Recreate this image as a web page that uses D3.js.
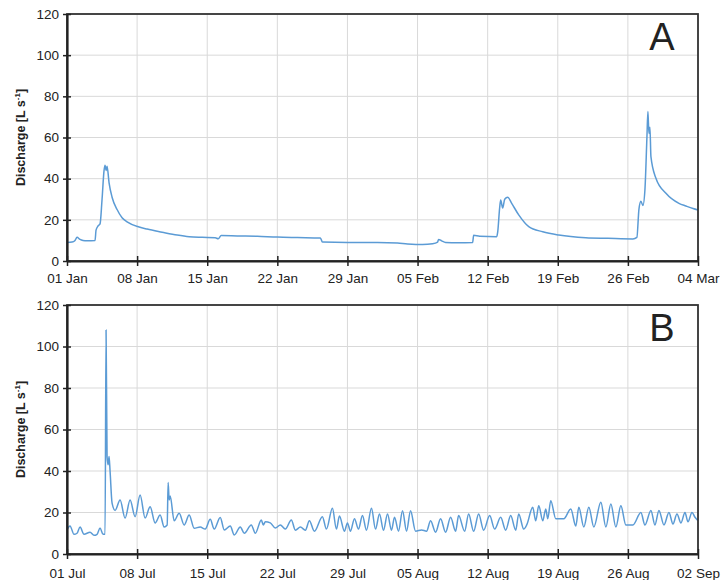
<!DOCTYPE html>
<html>
<head>
<meta charset="utf-8">
<script src="https://cdn.jsdelivr.net/npm/d3@7"></script>
<style>
  body { margin: 0; background: #fff; }
  text { font-family: Arial, "Liberation Sans", sans-serif; fill: #222; }
</style>
</head>
<body>
<div id="chart"></div>
<script>
var width = 728;
var height = 580;

// panel A: 01 Jan - 04 Mar (day offsets from start, discharge L/s)
var startA = new Date(2016, 0, 1);
var daysA = [0, 0.5, 0.8, 1.0, 1.3, 1.6, 2.0, 2.8, 2.9, 3.1, 3.3, 3.5, 3.7, 3.8, 3.9, 4.0, 4.2, 4.5, 5.0, 5.5,
  6.0, 7.2, 8.0, 9.5, 11, 12.2, 13.5, 14.8, 15.1, 15.4, 17, 19, 21, 23, 25.3, 25.5, 28, 31, 33, 34,
  35.5, 36.5, 37.0, 37.1, 37.4, 37.8, 39, 40.5, 40.6, 41.2, 42.9, 43.0, 43.2, 43.3, 43.5, 43.7, 44.0, 44.4, 45.1, 46.1,
  47.5, 49.1, 51.8, 54, 56.5, 56.9, 57.1, 57.3, 57.5, 57.7, 57.9, 58.0, 58.1, 58.2, 58.3, 58.8, 59.8, 61.1, 61.8, 62.5, 63];
var flowA = [9, 9.2, 10, 11.5, 10.5, 10, 9.8, 10, 15, 17, 18, 30, 44, 46.5, 44, 46, 38, 31, 25, 21,
  19, 16.5, 15.5, 14, 12.6, 11.8, 11.5, 11.3, 10.8, 12.4, 12.2, 12, 11.6, 11.4, 11.2, 9.2, 9.0, 9.0, 8.7, 8.3,
  8.0, 8.4, 9.2, 10.5, 9.8, 9.0, 8.9, 9, 12.5, 12, 11.8, 14, 26, 29.6, 25.7, 30, 31, 28, 22.4, 16.7,
  14.2, 12.6, 11.3, 11, 10.7, 11.5, 25, 29, 27, 34.5, 60, 72.6, 62, 65, 50.7, 40.2, 32.9, 28, 26.7, 25.5, 24.8];
var tickLabelsA = ["01 Jan", "08 Jan", "15 Jan", "22 Jan", "29 Jan", "05 Feb", "12 Feb", "19 Feb", "26 Feb", "04 Mar"];

// panel B: 01 Jul - 02 Sep
var startB = new Date(2016, 6, 1);
var daysB = [0, 0.3, 0.7, 1.0, 1.3, 1.7, 2.3, 2.7, 3.0, 3.3, 3.6, 3.8, 3.9, 4.0, 4.1, 4.2, 4.3, 4.5, 4.8, 5.3,
  5.8, 6.3, 6.8, 7.3, 7.8, 8.3, 8.8, 9.3, 9.7, 10.0, 10.1, 10.2, 10.3, 10.7, 11.2, 11.7, 12.2, 12.7, 13.3, 13.8,
  14.3, 14.7, 15.3, 15.7, 16.3, 16.7, 17.3, 17.7, 18.4, 18.8, 19.4, 19.6, 19.8, 20.3, 20.8, 21.3, 21.8, 22.4, 22.8, 23.3,
  23.8, 24.2, 24.7, 25.5, 25.9, 26.5, 26.9, 27.2, 27.7, 28.0, 28.3, 28.7, 29.1, 29.5, 29.9, 30.4, 30.8, 31.2, 31.6, 32.0,
  32.4, 32.7, 33.1, 33.5, 33.9, 34.3, 34.8, 35.4, 35.9, 36.3, 36.8, 37.3, 37.8, 38.3, 38.8, 39.1, 39.7, 40.1, 40.6, 41.1,
  41.6, 42.2, 42.7, 43.3, 43.8, 44.3, 44.8, 45.1, 45.6, 45.9, 46.5, 46.8, 47.1, 47.5, 47.8, 48.0, 48.3, 48.8, 49.6, 50.3,
  50.8, 51.1, 51.6, 52.1, 52.6, 53.3, 53.8, 54.3, 54.8, 55.3, 55.8, 56.5, 57.3, 57.7, 58.3, 58.7, 59.1, 59.6, 60.1, 60.5,
  60.9, 61.3, 61.7, 62.0, 62.4, 62.7, 63];
var flowB = [11.6, 13.5, 9.5, 10, 13, 9.5, 10.5, 9, 9.5, 12.5, 9.5, 9.5, 108, 47, 43, 47, 40, 24.5, 21, 26,
  17.3, 26, 18, 28.4, 17.3, 22.8, 15, 18.8, 13, 14, 34.5, 26, 28, 16, 19.6, 14, 18.8, 12.4, 13, 12,
  16.7, 12, 17.6, 11.6, 13.5, 9.2, 13, 10, 14, 10, 16.4, 14, 15.5, 15, 12.5, 14, 12, 16.4, 11.5, 13,
  11.5, 16, 11, 18, 12, 22, 12, 18.3, 11, 15, 11, 17, 12, 18.6, 11.5, 22, 12, 19.3, 11.5, 19.3,
  11.5, 17.7, 11, 20.9, 11, 20.9, 11, 11.6, 11, 16, 10.5, 17, 10.5, 17.7, 11, 18.5, 11, 19.3, 11, 19.3,
  11.5, 18.5, 12, 17.7, 11.5, 18.5, 11.5, 19.3, 12, 14, 22.5, 16, 23.3, 16, 21.7, 17, 25.7, 17, 17, 21.7,
  13.5, 22.5, 13, 22.5, 13, 24.9, 13, 24.1, 13, 23.3, 14, 14, 20, 14, 21, 14, 21, 14, 20, 14.5,
  19.3, 15, 20, 15.5, 20, 17.7, 16];
var tickLabelsB = ["01 Jul", "08 Jul", "15 Jul", "22 Jul", "29 Jul", "05 Aug", "12 Aug", "19 Aug", "26 Aug", "02 Sep"];

var yTicks = [0, 20, 40, 60, 80, 100, 120];

var svg = d3.select("#chart")
  .append("svg")
  .attr("width", width)
  .attr("height", height)
  .style("display", "block");

var left = 67, right = 698;

function toDate(start, d) {
  return new Date(start.getTime() + d * 864e5);
}

function drawPanel(start, days, flow, tickLabels, letter, top, bottom, labelPad) {
  var x = d3.scaleTime()
    .domain([start, d3.timeDay.offset(start, 63)])
    .range([left, right]);
  var y = d3.scaleLinear().domain([0, 120]).range([bottom, top]);
  var tickDates = tickLabels.map((t, i) => d3.timeDay.offset(start, i * 7));

  var g = svg.append("g");

  // grid
  g.selectAll(".hgrid")
    .data(yTicks)
    .enter().append("line")
    .attr("x1", left).attr("x2", right)
    .attr("y1", d => y(d)).attr("y2", d => y(d))
    .attr("stroke", "#d9d9d9").attr("stroke-width", 1);
  g.selectAll(".vgrid")
    .data(tickDates)
    .enter().append("line")
    .attr("x1", d => x(d)).attr("x2", d => x(d))
    .attr("y1", top).attr("y2", bottom)
    .attr("stroke", "#d9d9d9").attr("stroke-width", 1);

  // series
  var pts = days.map((d, i) => ({ date: toDate(start, d), q: flow[i] }));
  var line = d3.line().curve(d3.curveMonotoneX).x(d => x(d.date)).y(d => y(d.q));
  g.append("path")
    .datum(pts)
    .attr("fill", "none")
    .attr("stroke", "#5b9bd5")
    .attr("stroke-width", 1.5)
    .attr("stroke-linejoin", "round")
    .attr("d", line);

  // frame top / right
  g.append("rect")
    .attr("x", left).attr("y", top)
    .attr("width", right - left).attr("height", bottom - top)
    .attr("fill", "none").attr("stroke", "#333").attr("stroke-width", 1.8);

  var xAxis = g.append("g")
    .attr("transform", `translate(0,${bottom})`)
    .call(d3.axisBottom(x).tickValues(tickDates)
      .tickFormat((d, i) => tickLabels[i])
      .tickSize(5).tickPadding(labelPad).tickSizeOuter(0));
  xAxis.selectAll(".tick line").attr("y1", -5).attr("stroke", "#222").attr("stroke-width", 1.5);
  xAxis.select(".domain").attr("stroke", "#222").attr("stroke-width", 2.2);
  xAxis.selectAll("text").attr("font-size", 13.5).attr("fill", "#222");

  var yAxis = g.append("g")
    .attr("transform", `translate(${left},0)`)
    .call(d3.axisLeft(y).tickValues(yTicks).tickSize(4).tickPadding(4).tickSizeOuter(0));
  yAxis.selectAll(".tick line").attr("x1", 4).attr("stroke", "#222").attr("stroke-width", 1.5);
  yAxis.select(".domain").attr("stroke", "#222").attr("stroke-width", 2.2);
  yAxis.selectAll("text").attr("font-size", 13.5).attr("fill", "#222");

  // y label
  var lab = g.append("text")
    .attr("transform", `translate(25,${(top + bottom) / 2}) rotate(-90)`)
    .attr("text-anchor", "middle")
    .attr("font-size", 12.5)
    .attr("font-weight", "bold");
  lab.append("tspan").text("Discharge [L s");
  lab.append("tspan").attr("font-size", 8).attr("dy", -5).text("-1");
  lab.append("tspan").attr("dy", 5).text("]");

  // panel letter
  g.append("text")
    .attr("x", 662).attr("y", top + 36)
    .attr("text-anchor", "middle")
    .attr("font-size", 38)
    .attr("fill", "#111")
    .text(letter);
}

drawPanel(startA, daysA, flowA, tickLabelsA, "A", 14, 261, 7);
drawPanel(startB, daysB, flowB, tickLabelsB, "B", 305, 554, 9);
</script>
</body>
</html>
